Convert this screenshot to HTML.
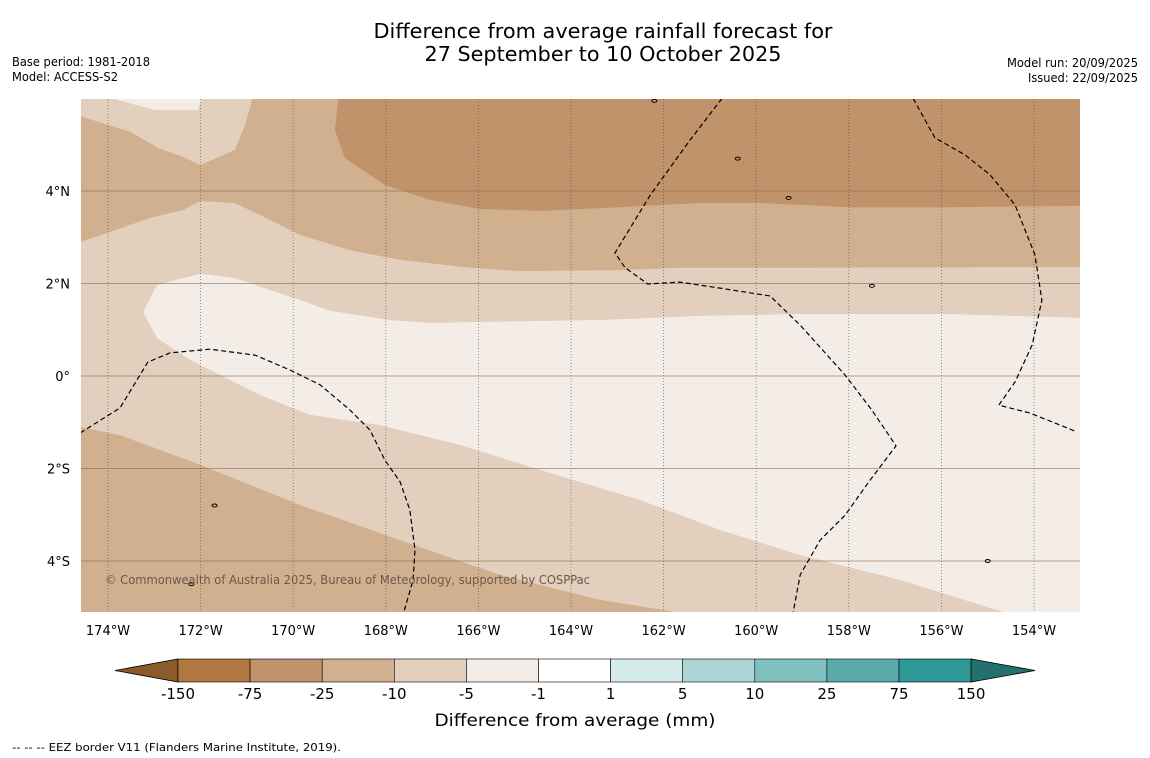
<!DOCTYPE html>
<html><head><meta charset="utf-8"><style>
body{margin:0;background:#fff;font-family:"Liberation Sans","DejaVu Sans",sans-serif}
svg{display:block}
</style></head><body>
<svg id="chart" width="1150" height="758" viewBox="0 0 1150 758" font-family="DejaVu Sans, Liberation Sans, sans-serif">
<defs><clipPath id="mapclip"><rect x="81" y="99" width="999" height="513"/></clipPath></defs>
<text x="603" y="38" text-anchor="middle" font-size="20" textLength="459" lengthAdjust="spacingAndGlyphs">Difference from average rainfall forecast for</text>
<text x="603" y="61" text-anchor="middle" font-size="20" textLength="357" lengthAdjust="spacingAndGlyphs">27 September to 10 October 2025</text>
<text x="12" y="66" font-size="12" textLength="138" lengthAdjust="spacingAndGlyphs">Base period: 1981-2018</text>
<text x="12" y="81" font-size="12" textLength="106" lengthAdjust="spacingAndGlyphs">Model: ACCESS-S2</text>
<text x="1138" y="67" text-anchor="end" font-size="12" textLength="131" lengthAdjust="spacingAndGlyphs">Model run: 20/09/2025</text>
<text x="1138" y="82" text-anchor="end" font-size="12" textLength="110" lengthAdjust="spacingAndGlyphs">Issued: 22/09/2025</text>
<g id="map" clip-path="url(#mapclip)"></g>
<g id="axes"></g>
<g id="cbar"></g>
<text x="575" y="726" text-anchor="middle" font-size="17" textLength="281" lengthAdjust="spacingAndGlyphs">Difference from average (mm)</text>
<text x="12" y="751" font-size="11" textLength="329" lengthAdjust="spacingAndGlyphs">--  --  -- EEZ border V11 (Flanders Marine Institute, 2019).</text>
</svg>
<script>
const lonTicks=[-174,-172,-170,-168,-166,-164,-162,-160,-158,-156,-154];
const lonLabels=["174°W","172°W","170°W","168°W","166°W","164°W","162°W","160°W","158°W","156°W","154°W"];
const latTicks=[4,2,0,-2,-4];
const latLabels=["4°N","2°N","0°","2°S","4°S"];
const cbarLabels=["-150","-75","-25","-10","-5","-1","1","5","10","25","75","150"];
const cbarColors=["#b07840","#c0936a","#d1b08f","#e2cfbe","#f4ede7","#ffffff","#d6ecea","#acd6d5","#80c0bf","#58abaa","#2e9896"];
const bgColor="#e2cfbe";
const lightTopLeft=[[-174,6.2],[-171.9,6.2],[-172.06,5.75],[-172.98,5.75],[-173.8,5.97],[-174,6.2]];
const lightMain=[[-173.24,1.38],[-172.94,1.97],[-172.01,2.21],[-171.26,2.12],[-169.85,1.64],[-169.21,1.41],[-167.91,1.21],[-167.05,1.15],[-163.37,1.21],[-161.21,1.3],[-159.05,1.34],[-155.81,1.34],[-152.8,1.25],[-152.8,-5.3],[-154.67,-5.3],[-154.67,-5.1],[-156.89,-4.41],[-159.05,-3.87],[-160.78,-3.33],[-162.51,-2.68],[-164.67,-2.03],[-166.4,-1.49],[-168.13,-1.06],[-169.64,-0.84],[-170.72,-0.41],[-171.36,-0.09],[-172.23,0.35],[-172.94,0.82]];
const midTop=[[-174.8,2.83],[-173.96,3.11],[-173.09,3.42],[-172.38,3.59],[-172.01,3.78],[-171.26,3.74],[-170.72,3.48],[-169.85,3.05],[-168.77,2.72],[-167.69,2.51],[-166.18,2.34],[-165.1,2.27],[-162.94,2.29],[-161.65,2.34],[-159.05,2.34],[-152.8,2.36],[-152.8,6.2],[-170.82,6.2],[-171.04,5.43],[-171.26,4.89],[-172.01,4.56],[-172.38,4.74],[-172.92,4.93],[-173.52,5.28],[-174.8,5.68]];
const midBottom=[[-174.8,-1.06],[-173.74,-1.28],[-172.01,-1.92],[-169.85,-2.79],[-167.69,-3.55],[-165.53,-4.3],[-163.37,-4.84],[-161.75,-5.1],[-161.5,-5.3],[-174.8,-5.3]];
const darkTop=[[-169.0,6.2],[-169.1,5.32],[-168.88,4.71],[-168.02,4.13],[-167.05,3.81],[-165.97,3.61],[-164.67,3.57],[-162.94,3.65],[-161.21,3.74],[-159.92,3.74],[-157.97,3.65],[-155.81,3.65],[-152.8,3.68],[-152.8,6.2]];
const eez1=[[-174.6,-1.23],[-173.74,-0.69],[-173.14,0.3],[-172.66,0.5],[-171.8,0.58],[-170.82,0.45],[-170.07,0.13],[-169.42,-0.19],[-168.77,-0.74],[-168.34,-1.17],[-168.02,-1.82],[-167.69,-2.29],[-167.48,-2.9],[-167.37,-3.76],[-167.41,-4.41],[-167.61,-5.1]];
const eez2=[[-160.74,6.0],[-161.43,5.1],[-162.29,3.91],[-163.05,2.66],[-162.83,2.34],[-162.34,1.99],[-161.65,2.03],[-160.78,1.9],[-159.7,1.73],[-159.05,1.1],[-158.08,0.02],[-157.5,-0.74],[-156.98,-1.51],[-157.54,-2.25],[-158.08,-3.01],[-158.62,-3.55],[-159.05,-4.3],[-159.2,-5.1]];
const eez3=[[-156.61,6.0],[-156.14,5.15],[-155.49,4.78],[-154.95,4.35],[-154.41,3.7],[-153.98,2.62],[-153.83,1.64],[-154.04,0.67],[-154.41,-0.13],[-154.76,-0.63],[-154.09,-0.8],[-153.44,-1.06],[-153.07,-1.21]];
const islands=[[-159.3,3.85],[-157.5,1.95],[-171.7,-2.8],[-172.2,-4.5],[-160.4,4.7],[-162.2,5.95],[-155,-4]];

const NS="http://www.w3.org/2000/svg";
const X=lon=>108+(lon+174)*46.3;
const Y=lat=>191-(lat-4)*46.25;
function mk(tag,attrs,parent){const e=document.createElementNS(NS,tag);for(const k in attrs)e.setAttribute(k,attrs[k]);parent.appendChild(e);return e;}
const map=document.getElementById('map'),axes=document.getElementById('axes'),cbar=document.getElementById('cbar');
const bg=mk('rect',{x:81,y:99,width:999,height:513,fill:bgColor},map);


function poly(pts,fill,name){const p=mk('polygon',{points:pts.map(q=>X(q[0])+','+Y(q[1])).join(' '),fill:fill},map);

}
poly(midTop,"#d1b08f","contour-neg25-neg10-north");
poly(darkTop,"#c0936a","contour-neg75-neg25");
poly(midBottom,"#d1b08f","contour-neg25-neg10-south");
poly(lightTopLeft,"#f4ede7","contour-neg5-neg1-northwest");
poly(lightMain,"#f4ede7","contour-neg5-neg1-central");
lonTicks.forEach((lon,i)=>{
const l=mk('line',{x1:X(lon),x2:X(lon),y1:99,y2:612,stroke:"#555",'stroke-width':0.8,'stroke-dasharray':'1,2','stroke-opacity':0.8},map);


const t=mk('text',{x:X(lon),y:635,'text-anchor':'middle','font-size':13},axes);t.textContent=lonLabels[i];

});
latTicks.forEach((lat,i)=>{
const l=mk('line',{x1:81,x2:1080,y1:Y(lat),y2:Y(lat),stroke:"#8a6a4a",'stroke-width':1,'stroke-opacity':0.6},map);


const t=mk('text',{x:70,y:Y(lat)+5,'text-anchor':'end','font-size':13},axes);t.textContent=latLabels[i];

});
[eez1,eez2,eez3].forEach(e=>{const p=mk('polyline',{points:e.map(q=>X(q[0])+','+Y(q[1])).join(' '),fill:'none',stroke:'#000','stroke-width':1.2,'stroke-dasharray':'5,3'},map);

});
islands.forEach(q=>{const c=mk('ellipse',{cx:X(q[0]),cy:Y(q[1]),rx:2.5,ry:1.5,fill:'none',stroke:'#000','stroke-width':1},map);

});
const cp=mk('text',{x:105,y:584,'font-size':12,fill:'#6b5a4a',textLength:485,lengthAdjust:'spacingAndGlyphs'},map);cp.textContent="© Commonwealth of Australia 2025, Bureau of Meteorology, supported by COSPPac";


const cx0=178,cw=72.1,cy=659,ch=23;
const lt=mk('polygon',{points:`${cx0},${cy} ${cx0},${cy+ch} 115,${cy+ch/2}`,fill:"#8c5a2c",stroke:'#000','stroke-width':0.8},cbar);


cbarColors.forEach((c,i)=>{const r=mk('rect',{x:cx0+i*cw,y:cy,width:cw,height:ch,fill:c,stroke:'#000','stroke-width':0.6},cbar);

});
const xe=cx0+cbarColors.length*cw;
const rt=mk('polygon',{points:`${xe},${cy} ${xe},${cy+ch} 1035,${cy+ch/2}`,fill:"#23706e",stroke:'#000','stroke-width':0.8},cbar);


cbarLabels.forEach((s,i)=>{const t=mk('text',{x:cx0+i*cw,y:699,'text-anchor':'middle','font-size':15},cbar);t.textContent=s;

});
</script>
</body></html>
